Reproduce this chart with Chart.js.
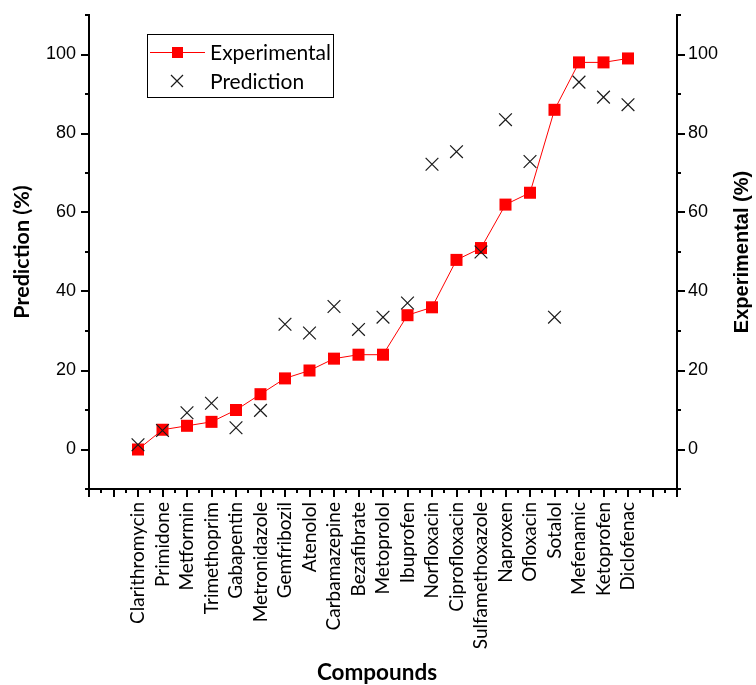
<!DOCTYPE html>
<html>
<head>
<meta charset="utf-8">
<script src="https://cdn.jsdelivr.net/npm/chart.js@4.4.0/dist/chart.umd.min.js"></script>
<style>
  html, body { margin: 0; padding: 0; background: #fff; }
  canvas { display: block; }
</style>
</head>
<body>
<canvas id="chart" width="756" height="685"></canvas>
<script>
// Compounds along the x axis
const compounds = ['Clarithromycin', 'Primidone', 'Metformin', 'Trimethoprim', 'Gabapentin',
  'Metronidazole', 'Gemfribozil', 'Atenolol', 'Carbamazepine', 'Bezafibrate', 'Metoprolol',
  'Ibuprofen', 'Norfloxacin', 'Ciprofloxacin', 'Sulfamethoxazole', 'Naproxen', 'Ofloxacin',
  'Sotalol', 'Mefenamic', 'Ketoprofen', 'Diclofenac'];

// Removal (%) per compound
const experimental = [0, 5, 6, 7, 10, 14, 18, 20, 23, 24, 24, 34, 36, 48, 51, 62, 65, 86, 98, 98, 99];
const prediction = [1.2, 4.8, 9.3, 11.7, 5.5, 9.9, 31.7, 29.5, 36.2, 30.4, 33.5, 37.1,
  72.2, 75.4, 50.0, 83.5, 72.9, 33.5, 93.0, 89.2, 87.3];

// Labelled ticks on both percentage axes
const yTickValues = [0, 20, 40, 60, 80, 100];

const RED = '#ff0000';
const INK = '#1a1a1a';

// Outward tick marks: long at major positions, short at minor ones
const axisTicks = {
  id: 'axisTicks',
  afterDraw(chart) {
    const { ctx, chartArea: a } = chart;
    const { x, y } = chart.scales;
    ctx.save();
    ctx.strokeStyle = '#000';
    ctx.lineWidth = 2;
    ctx.beginPath();
    for (let v = -10; v <= 110; v += 10) {
      const len = (v % 20 === 0 && v >= 0 && v <= 100) ? 8 : 4;
      const py = Math.round(y.getPixelForValue(v));
      ctx.moveTo(a.left - len, py); ctx.lineTo(a.left, py);
      ctx.moveTo(a.right, py); ctx.lineTo(a.right + len, py);
    }
    for (let v = x.min; v <= x.max + 1e-9; v += 0.5) {
      const len = Number.isInteger(v) ? 8 : 4;
      const px = Math.round(x.getPixelForValue(v));
      ctx.moveTo(px, a.bottom); ctx.lineTo(px, a.bottom + len);
    }
    ctx.stroke();
    ctx.restore();
  }
};

// Axis titles (both vertical titles read bottom-to-top)
const axisTitles = {
  id: 'axisTitles',
  afterDraw(chart) {
    const { ctx, chartArea: a } = chart;
    const midY = (a.top + a.bottom) / 2;
    ctx.save();
    ctx.fillStyle = '#000';
    ctx.textAlign = 'center';
    ctx.textBaseline = 'middle';

    ctx.save();
    ctx.font = 'bold 21.5px Lato';
    ctx.translate(22, midY);
    ctx.rotate(-Math.PI / 2);
    ctx.fillText('Prediction (%)', 0, 0);
    ctx.restore();

    ctx.save();
    ctx.font = 'bold 20px "Liberation Sans"';
    ctx.translate(742, midY);
    ctx.rotate(-Math.PI / 2);
    ctx.fillText('Experimental (%)', 0, 0);
    ctx.restore();

    ctx.font = 'bold 22.5px Lato';
    ctx.fillText('Compounds', 377, 673);
    ctx.restore();
  }
};

// Boxed legend inside the plot area
const boxLegend = {
  id: 'boxLegend',
  afterDraw(chart) {
    const { ctx, chartArea: a } = chart;
    const bx = a.left + 58, by = a.top + 19, bw = 186, bh = 63;
    ctx.save();
    ctx.fillStyle = '#fff';
    ctx.fillRect(bx, by, bw, bh);
    ctx.strokeStyle = '#000';
    ctx.lineWidth = 1;
    ctx.strokeRect(bx + 0.5, by + 0.5, bw, bh);

    const r1 = by + 18, r2 = by + 47, mx = bx + 30;
    // Experimental: line with square marker
    ctx.strokeStyle = RED;
    ctx.lineWidth = 1;
    ctx.beginPath();
    ctx.moveTo(bx + 3, r1 + 0.5); ctx.lineTo(bx + 58, r1 + 0.5);
    ctx.stroke();
    ctx.fillStyle = RED;
    ctx.fillRect(mx - 5, r1 - 5, 11, 11);
    // Prediction: cross marker
    ctx.strokeStyle = INK;
    ctx.lineWidth = 1.2;
    ctx.beginPath();
    ctx.moveTo(mx - 6, r2 - 6); ctx.lineTo(mx + 6, r2 + 6);
    ctx.moveTo(mx + 6, r2 - 6); ctx.lineTo(mx - 6, r2 + 6);
    ctx.stroke();

    ctx.fillStyle = '#000';
    ctx.font = '21px Lato';
    ctx.textAlign = 'left';
    ctx.textBaseline = 'middle';
    ctx.fillText('Experimental', bx + 63, r1 + 1);
    ctx.fillText('Prediction', bx + 63, r2 + 1);
    ctx.restore();
  }
};

// Fixed axis box sizes; label overhang must not shrink the plot area
const fixBox = (w, h) => (s) => {
  if (w !== null) s.width = w;
  if (h !== null) s.height = h;
  s.paddingTop = 0; s.paddingBottom = 0;
  s.paddingLeft = 0; s.paddingRight = 0;
};

const yScaleBase = (position) => ({
  type: 'linear',
  position,
  min: -10,
  max: 110,
  grid: { display: false, drawTicks: false },
  border: { display: true, color: '#000', width: 2 },
  afterBuildTicks: (s) => { s.ticks = yTickValues.map(v => ({ value: v })); },
  ticks: {
    color: '#000',
    font: { family: '"Liberation Sans"', size: 18 },
    padding: position === 'left' ? 13 : 11
  }
});

new Chart(document.getElementById('chart'), {
  type: 'line',
  data: {
    datasets: [
      {
        label: 'Experimental',
        data: experimental.map((v, i) => ({ x: i, y: v })),
        yAxisID: 'y1',
        borderColor: RED,
        borderWidth: 1,
        backgroundColor: RED,
        pointStyle: 'rect',
        pointRadius: 8.5,
        pointBorderWidth: 0,
        pointBackgroundColor: RED,
        tension: 0,
        order: 1
      },
      {
        label: 'Prediction',
        data: prediction.map((v, i) => ({ x: i, y: v })),
        yAxisID: 'y',
        showLine: false,
        borderColor: INK,
        backgroundColor: INK,
        pointStyle: 'crossRot',
        pointRadius: 9,
        pointBorderWidth: 1.2,
        pointBorderColor: INK,
        order: 0
      }
    ]
  },
  options: {
    responsive: false,
    animation: false,
    layout: { padding: { top: 15, left: 0, right: 0, bottom: 0 } },
    plugins: {
      legend: { display: false },
      tooltip: { enabled: false }
    },
    scales: {
      x: {
        type: 'linear',
        min: -2,
        max: 22,
        grid: { display: false, drawTicks: false },
        border: { display: true, color: '#000', width: 2 },
        afterBuildTicks: (s) => { s.ticks = compounds.map((_, i) => ({ value: i })); },
        afterFit: fixBox(null, 196),
        ticks: {
          autoSkip: false,
          minRotation: 90,
          maxRotation: 90,
          padding: 13,
          color: '#000',
          font: { family: 'Lato', size: 19 },
          callback: (v) => compounds[v] ?? ''
        }
      },
      y: Object.assign(yScaleBase('left'), { afterFit: fixBox(89, null) }),
      y1: Object.assign(yScaleBase('right'), { afterFit: fixBox(79, null) })
    }
  },
  plugins: [axisTicks, axisTitles, boxLegend]
});
</script>
</body>
</html>
